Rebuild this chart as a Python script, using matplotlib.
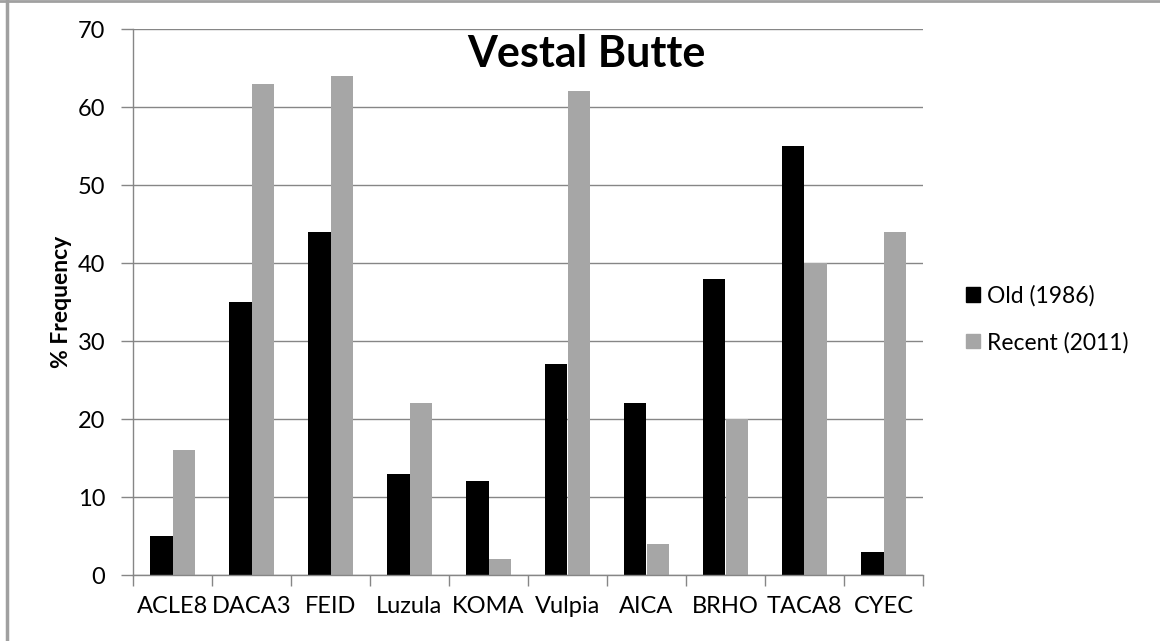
import matplotlib
matplotlib.use("Agg")
import matplotlib.pyplot as plt
import numpy as np
from matplotlib.lines import Line2D

categories = ["ACLE8", "DACA3", "FEID", "Luzula", "KOMA", "Vulpia", "AICA", "BRHO", "TACA8", "CYEC"]
old_1986 = [5, 35, 44, 13, 12, 27, 22, 38, 55, 3]
recent_2011 = [16, 63, 64, 22, 2, 62, 4, 20, 40, 44]
series_names = ["Old (1986)", "Recent (2011)"]
yticks = [0, 10, 20, 30, 40, 50, 60, 70]

plt.rcParams['font.family'] = ['Lato', 'DejaVu Sans']

fig = plt.figure(figsize=(11.6, 6.41), dpi=100)
ax = fig.add_axes([133/1160, 1-575/641, (923-133)/1160, (575-29)/641])

x = np.arange(len(categories))
w = 1/3.5
ax.bar(x - w/2, old_1986, width=w, color="#000000", label=series_names[0])
ax.bar(x + w/2, recent_2011, width=w, color="#A6A6A6", label=series_names[1])

grid_c = "#868686"
fs = 17
ax.set_ylim(0, 70)
ax.set_xlim(-0.5, len(categories) - 0.5)
ax.set_yticks(yticks)
ax.set_yticklabels([str(t) for t in yticks], fontsize=fs, color="#000000")
ax.set_xticks(np.arange(len(categories) + 1) - 0.5, minor=True)
ax.set_xticks(x)
ax.set_xticklabels(categories, fontsize=fs)
ax.tick_params(axis='x', which='major', length=0, pad=15)
ax.tick_params(axis='x', which='minor', length=8, color=grid_c, width=1)
ax.tick_params(axis='y', length=9, color=grid_c, width=1, pad=11)
ax.yaxis.grid(True, color=grid_c, linewidth=1)
ax.set_axisbelow(True)
for s in ["top", "right"]:
    ax.spines[s].set_visible(False)
for s in ["left", "bottom"]:
    ax.spines[s].set_color(grid_c)
    ax.spines[s].set_linewidth(1)

ax.set_ylabel("% Frequency", fontsize=16.5, fontweight="bold", labelpad=4)
ax.text(0.574, 0.955, "Vestal Butte", transform=ax.transAxes, ha="center", va="center",
        fontsize=31, fontweight="bold")

handles = [plt.Rectangle((0, 0), 1, 1, color="#000000"), plt.Rectangle((0, 0), 1, 1, color="#A6A6A6")]
fig.legend(handles, series_names, loc="center left", bbox_to_anchor=(950/1160, 1-319/641),
           frameon=False, fontsize=16.5, handlelength=0.6, handleheight=0.6, handletextpad=0.3,
           labelspacing=1.1, borderpad=0.2)

fig.add_artist(Line2D([7/1160, 7/1160], [0, 1], color="#A0A0A0", linewidth=2.5, transform=fig.transFigure))
fig.add_artist(Line2D([0, 1], [1-0.5/641, 1-0.5/641], color="#A0A0A0", linewidth=2, transform=fig.transFigure))

fig.savefig("out.png", dpi=100)
